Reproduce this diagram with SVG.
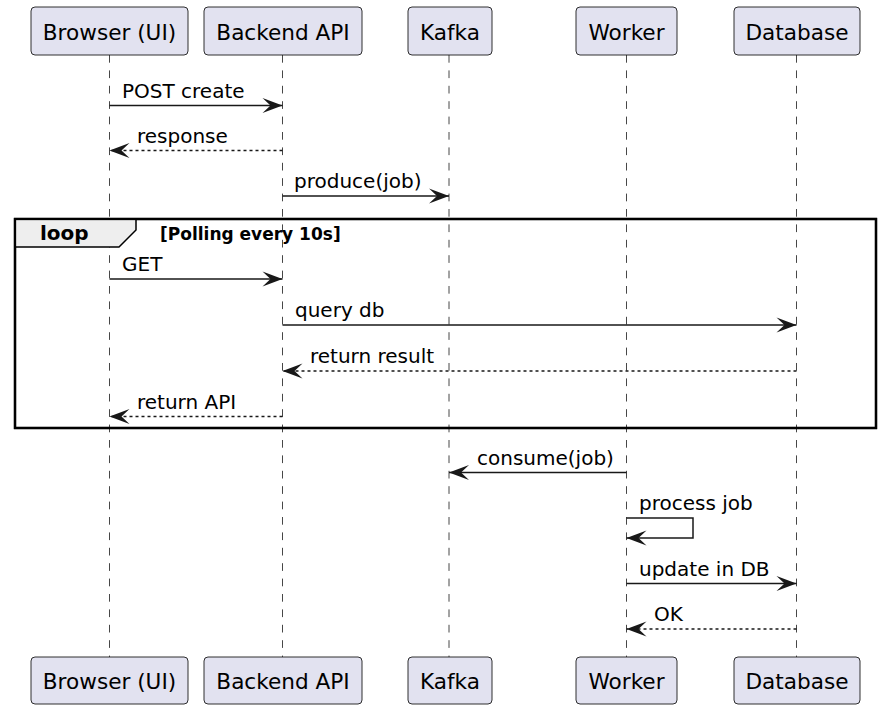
<svg xmlns="http://www.w3.org/2000/svg" width="883" height="711" viewBox="0 0 883 711">
<defs>
<style>
.box{fill:#E2E2F0;stroke:#181818;stroke-width:0.9}
.pt{font-family:"DejaVu Sans",sans-serif;font-size:21.6px;fill:#000;text-anchor:middle}
.life{stroke:#181818;stroke-width:0.8;stroke-dasharray:7.7,7.7;fill:none}
.msg{stroke:#181818;stroke-width:1.5;fill:none}
.ret{stroke:#181818;stroke-width:1.5;fill:none;stroke-dasharray:3,3}
.mt{font-family:"DejaVu Sans",sans-serif;font-size:20px;fill:#000}
.lbl{font-family:"DejaVu Sans",sans-serif;font-weight:bold;fill:#000}
</style>
<marker id="ah" viewBox="-21 -9 22 18" markerWidth="22" markerHeight="18" refX="0" refY="0" orient="auto" markerUnits="userSpaceOnUse">
<path d="M0,0 L-20,-7.5 L-12,0 L-20,7.5 Z" fill="#181818"/>
</marker>
</defs>
<rect width="883" height="711" fill="#FFFFFF"/>
<g id="lifelines">
<line class="life" x1="109.5" y1="55" x2="109.5" y2="657"/>
<line class="life" x1="282.5" y1="55" x2="282.5" y2="657"/>
<line class="life" x1="449" y1="55" x2="449" y2="657"/>
<line class="life" x1="626.5" y1="55" x2="626.5" y2="657"/>
<line class="life" x1="796.5" y1="55" x2="796.5" y2="657"/>
</g>
<g id="loop">
<rect x="15" y="219" width="861" height="209" fill="none" stroke="#000" stroke-width="2.3"/>
<path d="M15,219 L136,219 L136,230 L119,247 L15,247 Z" fill="#EEEEEE" stroke="#000" stroke-width="1.5"/>
<rect x="15" y="219" width="861" height="209" fill="none" stroke="#000" stroke-width="2.3"/>
<text class="lbl" x="40" y="239.5" font-size="20px">loop</text>
<text class="lbl" x="160" y="239.5" font-size="17px">[Polling every 10s]</text>
</g>
<g id="participant-browser">
<rect class="box" x="31" y="7" width="157" height="48" rx="4"/>
<text class="pt" x="109.5" y="39.5">Browser (UI)</text>
<rect class="box" x="31" y="657" width="157" height="47" rx="4"/>
<text class="pt" x="109.5" y="688.5">Browser (UI)</text>
</g>
<g id="participant-backend">
<rect class="box" x="204" y="7" width="158" height="48" rx="4"/>
<text class="pt" x="283" y="39.5">Backend API</text>
<rect class="box" x="204" y="657" width="158" height="47" rx="4"/>
<text class="pt" x="283" y="688.5">Backend API</text>
</g>
<g id="participant-kafka">
<rect class="box" x="408" y="7" width="84" height="48" rx="4"/>
<text class="pt" x="450" y="39.5">Kafka</text>
<rect class="box" x="408" y="657" width="84" height="47" rx="4"/>
<text class="pt" x="450" y="688.5">Kafka</text>
</g>
<g id="participant-worker">
<rect class="box" x="576" y="7" width="101" height="48" rx="4"/>
<text class="pt" x="626.5" y="39.5">Worker</text>
<rect class="box" x="576" y="657" width="101" height="47" rx="4"/>
<text class="pt" x="626.5" y="688.5">Worker</text>
</g>
<g id="participant-database">
<rect class="box" x="734" y="7" width="126" height="48" rx="4"/>
<text class="pt" x="797" y="39.5">Database</text>
<rect class="box" x="734" y="657" width="126" height="47" rx="4"/>
<text class="pt" x="797" y="688.5">Database</text>
</g>
<g id="connectors">
<line class="msg" x1="109.5" y1="105.5" x2="282.5" y2="105.5" marker-end="url(#ah)"/>
<text class="mt" x="122" y="97.5">POST create</text>
<line class="ret" x1="282.5" y1="150.5" x2="109.5" y2="150.5" marker-end="url(#ah)"/>
<text class="mt" x="137" y="142.5">response</text>
<line class="msg" x1="282.5" y1="196" x2="449" y2="196" marker-end="url(#ah)"/>
<text class="mt" x="294" y="188">produce(job)</text>
<line class="msg" x1="109.5" y1="279" x2="282.5" y2="279" marker-end="url(#ah)"/>
<text class="mt" x="122" y="271">GET</text>
<line class="msg" x1="282.5" y1="325" x2="796.5" y2="325" marker-end="url(#ah)"/>
<text class="mt" x="295" y="317">query db</text>
<line class="ret" x1="796.5" y1="371" x2="282.5" y2="371" marker-end="url(#ah)"/>
<text class="mt" x="310" y="363">return result</text>
<line class="ret" x1="282.5" y1="416.5" x2="109.5" y2="416.5" marker-end="url(#ah)"/>
<text class="mt" x="137" y="408.5">return API</text>
<line class="msg" x1="626.5" y1="472.5" x2="449" y2="472.5" marker-end="url(#ah)"/>
<text class="mt" x="477" y="464.5">consume(job)</text>
<polyline class="msg" points="626.5,518 693,518 693,538 626.5,538" marker-end="url(#ah)"/>
<text class="mt" x="639" y="510">process job</text>
<line class="msg" x1="626.5" y1="583.5" x2="796.5" y2="583.5" marker-end="url(#ah)"/>
<text class="mt" x="639" y="575.5">update in DB</text>
<line class="ret" x1="796.5" y1="629" x2="626.5" y2="629" marker-end="url(#ah)"/>
<text class="mt" x="654" y="621">OK</text>
</g>
</svg>
